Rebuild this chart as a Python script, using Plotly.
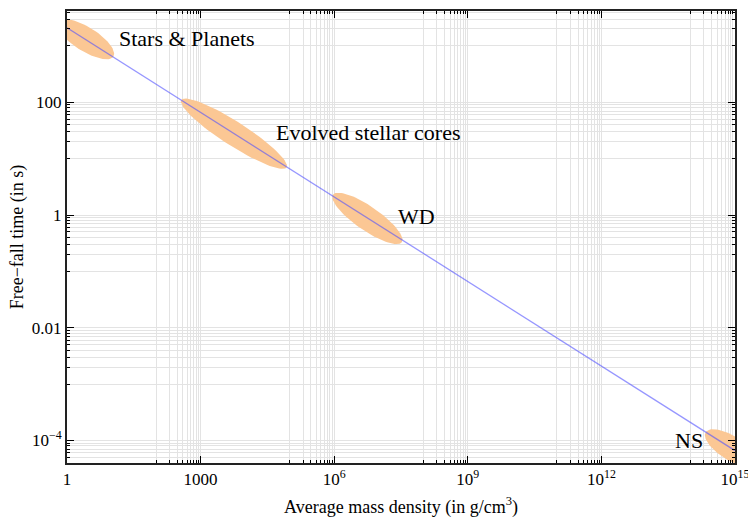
import numpy as np
import plotly.graph_objects as go

# free-fall line
density = [1, 1e15]              # g/cm^3
freefall = [2100, 6.6e-5]        # s

# object classes: the two tips of each shaded ellipse (density, time)
region_names = ["Stars & Planets", "Evolved stellar cores", "WD", "NS"]
region_rho_lo = [0.62, 370, 9.4e5, 2.2e14]
region_t_hi = [2700, 110, 2.3, 1.4e-4]
region_rho_hi = [11, 8.5e4, 3.3e7, 3.1e15]
region_t_lo = [650, 7.0, 0.33, 3.8e-5]

x_tickvals = [1, 1e3, 1e6, 1e9, 1e12, 1e15]
x_ticktext = ["1", "1000", "10<sup>6</sup>", "10<sup>9</sup>", "10<sup>12</sup>", "10<sup>15</sup>"]
y_tickvals = [1e-4, 1e-2, 1, 100]
y_ticktext = ["10<sup>\u22124</sup>", "0.01", "1", "100"]

# label placement (log10 coords for annotations on log axes)
label_pos = [(13, 1380, "left"), (4.5e4, 29, "left"), (2.45e7, 0.95, "left"), (2.1e14, 9.8e-5, "right")]

W, H = 748, 518
M = dict(l=67, r=13, t=11, b=55)
XR = [-0.0005, 15.0005]
YR = [-4.40, 3.62]
FONT = "Liberation Serif"
GRID = "#e3e3e3"
ORANGE = "rgb(251,199,148)"

# pixels per decade, so the ellipses look round in screen space
sx = (W - M["l"] - M["r"]) / (XR[1] - XR[0])
sy = (H - M["t"] - M["b"]) / (YR[1] - YR[0])


def ellipse(r1, t1, r2, t2, half_w=12, n=90):
    p1 = np.array([np.log10(r1) * sx, np.log10(t1) * sy])
    p2 = np.array([np.log10(r2) * sx, np.log10(t2) * sy])
    c = (p1 + p2) / 2
    d = p2 - p1
    a = np.hypot(*d) / 2
    u = d / (2 * a)
    v = np.array([-u[1], u[0]])
    th = np.linspace(0, 2 * np.pi, n)
    pts = c[:, None] + a * np.cos(th) * u[:, None] + half_w * np.sin(th) * v[:, None]
    return 10 ** (pts[0] / sx), 10 ** (pts[1] / sy)


def minor_vals(majors):
    # Mathematica-style: nine minor lines in the decade below each major tick
    out = []
    for m in majors:
        out += [k * m / 10 for k in range(1, 10)]
    return out


fig = go.Figure()

for i in range(len(region_names)):
    ex, ey = ellipse(region_rho_lo[i], region_t_hi[i], region_rho_hi[i], region_t_lo[i])
    fig.add_trace(go.Scatter(
        x=ex, y=ey, mode="lines", fill="toself",
        fillcolor=ORANGE, line=dict(width=0, color=ORANGE),
        hoverinfo="skip", showlegend=False
    ))

fig.add_trace(go.Scatter(
    x=density, y=freefall, mode="lines",
    line=dict(color="rgba(80,80,255,0.6)", width=1.3),
    showlegend=False
))

for name, (lx, ly, anc) in zip(region_names, label_pos):
    fig.add_annotation(
        x=np.log10(lx), y=np.log10(ly), text=name, showarrow=False,
        xanchor=anc, yanchor="middle",
        font=dict(family=FONT, size=22, color="black")
    )

fig.update_layout(
    width=W, height=H, margin=M,
    paper_bgcolor="white", plot_bgcolor="white",
    font=dict(family=FONT, size=17, color="black"),
    showlegend=False
)

fig.update_xaxes(
    type="log", range=XR, automargin=False, ticklabeloverflow="allow",
    tickvals=x_tickvals, ticktext=x_ticktext,
    ticks="inside", ticklen=7, tickwidth=1, tickcolor="black",
    showline=True, linewidth=2, linecolor="#222", mirror="ticks",
    showgrid=True, gridcolor=GRID, gridwidth=1, zeroline=False,
    minor=dict(tickvals=minor_vals(x_tickvals), ticks="inside", ticklen=3,
               tickcolor="black", showgrid=True, gridcolor=GRID, gridwidth=1),
    title=dict(text="Average mass density (in g/cm<sup>3</sup>)",
               font=dict(family=FONT, size=18), standoff=12)
)

fig.update_yaxes(
    type="log", range=YR, automargin=False, ticklabeloverflow="allow",
    tickvals=y_tickvals, ticktext=y_ticktext,
    ticks="inside", ticklen=7, tickwidth=1, tickcolor="black",
    showline=True, linewidth=2, linecolor="#222", mirror="ticks",
    showgrid=True, gridcolor=GRID, gridwidth=1, zeroline=False,
    minor=dict(tickvals=minor_vals(y_tickvals + [1e4]), ticks="inside", ticklen=3,
               tickcolor="black", showgrid=True, gridcolor=GRID, gridwidth=1),
    title=dict(text="Free\u2212fall time (in s)",
               font=dict(family=FONT, size=18), standoff=4)
)

# drop the page's default body margin so the figure sits at (0, 0)
fig.write_html("out.html", config={"displayModeBar": False},
               post_script=["document.body.style.margin = '0';"])
